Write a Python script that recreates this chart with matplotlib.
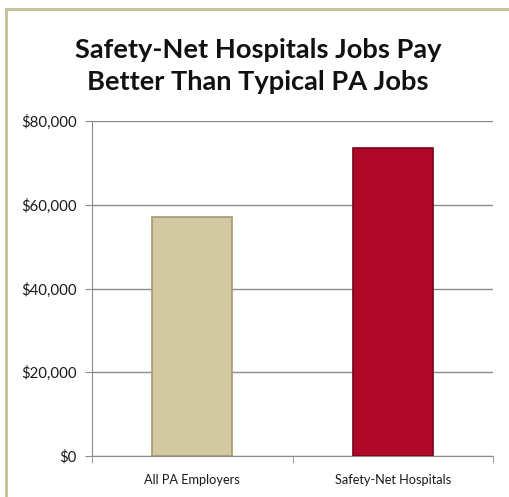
import matplotlib
matplotlib.use('Agg')
import matplotlib.pyplot as plt
from matplotlib.lines import Line2D
from matplotlib.ticker import FuncFormatter, FixedLocator

# data
categories = ['All PA Employers', 'Safety-Net Hospitals']
avg_pay = [57000, 73500]
bar_colors = ['#D1C9A2', '#B00828']
edge_colors = ['#A39A70', '#7A0018']
title = 'Safety-Net Hospitals Jobs Pay\nBetter Than Typical PA Jobs'

plt.rcParams['font.family'] = ['Lato', 'DejaVu Sans']

fig = plt.figure(figsize=(5.10, 4.97), dpi=100)
ax = fig.add_axes([0.1804, 0.0825, 0.7863, 0.674])

x = range(len(categories))
ax.bar(x, avg_pay, width=0.4, color=bar_colors, edgecolor=edge_colors,
       linewidth=1.2, zorder=3)

ax.set_xlim(-0.5, len(categories) - 0.5)
ax.set_ylim(0, 80000)
ax.set_yticks([0, 20000, 40000, 60000, 80000])
ax.yaxis.set_major_formatter(FuncFormatter(lambda v, p: '${:,.0f}'.format(v)))
ax.grid(axis='y', color='#8C8C8C', linewidth=1.0, zorder=0)

ax.set_xticks(list(x))
ax.set_xticklabels(categories, fontsize=9.2, color='#1A1A1A')
ax.tick_params(axis='x', which='major', length=0, pad=13)
ax.xaxis.set_minor_locator(FixedLocator([-0.5, 0.5, 1.5]))
ax.tick_params(axis='x', which='minor', length=5, color='#8C8C8C', direction='out')
ax.tick_params(axis='y', length=5, color='#8C8C8C', labelsize=10.8,
               labelcolor='#1A1A1A', pad=6)

for s in ['top', 'right']:
    ax.spines[s].set_visible(False)
for s in ['left', 'bottom']:
    ax.spines[s].set_color('#8C8C8C')

fig.text(0.506, 0.867, title, ha='center', va='center', fontsize=19.6,
         fontweight='bold', linespacing=1.38, color='#111111')

# chart frame (only the top and left edges are visible in the crop)
fig.add_artist(Line2D([0.012, 0.012], [0, 0.982], transform=fig.transFigure,
                      color='#C8BE96', linewidth=2))
fig.add_artist(Line2D([0.012, 1.0], [0.982, 0.982], transform=fig.transFigure,
                      color='#C8BE96', linewidth=2))

fig.savefig('out.png', dpi=100)
